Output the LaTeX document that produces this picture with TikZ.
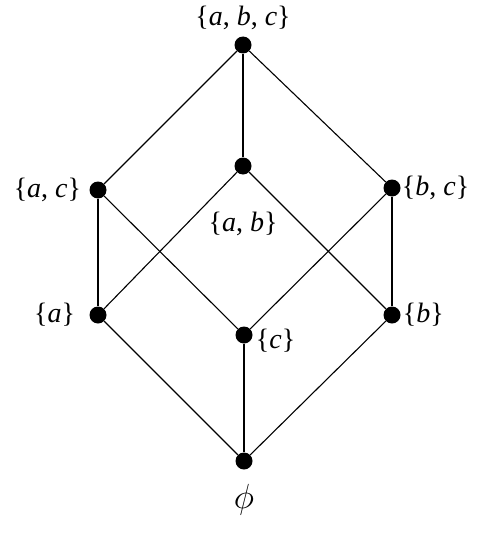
\documentclass[tikz,border=0pt]{standalone}
\usepackage{fontspec}
\setmainfont{Liberation Serif}
\usepackage{tikz}
\usetikzlibrary{positioning}

\begin{document}
\begin{tikzpicture}[x=1pt, y=-1pt,
    dot/.style={circle, fill=black, inner sep=0pt, minimum size=17pt},
    lbl/.style={inner sep=0pt, font=\fontsize{28}{32}\selectfont},
    edge/.style={line width=1.1pt}]
    \useasboundingbox (0,0) rectangle (491,535);
    \node[dot] (abc) at (243,45) {};
    \node[dot] (ac) at (98,190) {};
    \node[dot] (ab) at (243,166) {};
    \node[dot] (bc) at (392,188) {};
    \node[dot] (a) at (98,315) {};
    \node[dot] (c) at (244,335) {};
    \node[dot] (b) at (392,315) {};
    \node[dot] (e) at (244,461) {};
    \draw[edge] (abc) -- (ac);
    \draw[edge] (abc) -- (ab);
    \draw[edge] (abc) -- (bc);
    \draw[edge] (ac) -- (a);
    \draw[edge] (ac) -- (c);
    \draw[edge] (ab) -- (a);
    \draw[edge] (ab) -- (b);
    \draw[edge] (bc) -- (c);
    \draw[edge] (bc) -- (b);
    \draw[edge] (a) -- (e);
    \draw[edge] (c) -- (e);
    \draw[edge] (b) -- (e);
    \node[lbl, above=6pt of abc] (labc) {\{\textit{a}, \textit{b}, \textit{c}\}};
    \node[lbl, left=8pt of ac] (lac) {\{\textit{a}, \textit{c}\}};
    \node[lbl, below=37pt of ab] (lab) {\{\textit{a}, \textit{b}\}};
    \node[lbl, right=1pt of bc] (lbc) {\{\textit{b}, \textit{c}\}};
    \node[lbl, left=14pt of a] (la) {\{\textit{a}\}};
    \node[lbl, right=3pt of c, yshift=-6pt] (lc) {\{\textit{c}\}};
    \node[lbl, right=2pt of b] (lb) {\{\textit{b}\}};
    \node[lbl, below=14pt of e] (le) {\scalebox{1.4}{$\phi$}};
\end{tikzpicture}
\end{document}
